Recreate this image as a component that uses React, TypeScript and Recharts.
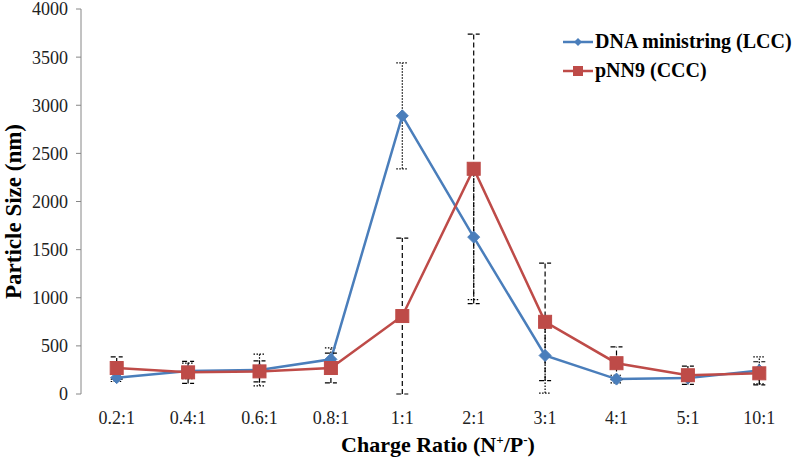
import React from 'react';
import {
  LineChart,
  Line,
  XAxis,
  YAxis,
  ErrorBar,
  Legend,
  Label,
} from 'recharts';

const categories = ['0.2:1', '0.4:1', '0.6:1', '0.8:1', '1:1', '2:1', '3:1', '4:1', '5:1', '10:1'];

// DNA ministring (LCC)
const ministring = [170, 240, 250, 360, 2890, 1630, 400, 155, 165, 245];
const ministringErr = [40, 80, 165, 120, 550, 650, 390, 40, 30, 140];

// pNN9 (CCC)
const pnn9 = [270, 225, 235, 270, 810, 2340, 750, 320, 195, 215];
const pnn9Err = [115, 115, 110, 155, 810, 1400, 610, 170, 95, 120];

const yTicks = [0, 500, 1000, 1500, 2000, 2500, 3000, 3500, 4000];

const BLUE = '#4A7EBB';
const RED = '#BE4B48';
const AXIS = '#868686';
const FONT = '"Liberation Serif", "Times New Roman", serif';

const data = categories.map((label, i) => ({
  pos: i + 0.5,
  label,
  ministring: ministring[i],
  ministringErr: ministringErr[i],
  pnn9: pnn9[i],
  pnn9Err: pnn9Err[i],
}));

const labelTicks = categories.map((_, i) => i + 0.5);
const markTicks = [0, 1, 2, 3, 4, 5, 6, 7, 8, 9, 10];

const Diamond = (props: any) => {
  const { cx, cy } = props;
  if (cx == null || cy == null) return null;
  const r = 6;
  return (
    <polygon
      points={`${cx},${cy - r} ${cx + r},${cy} ${cx},${cy + r} ${cx - r},${cy}`}
      fill={BLUE}
      stroke={BLUE}
    />
  );
};

const Square = (props: any) => {
  const { cx, cy } = props;
  if (cx == null || cy == null) return null;
  const s = 6.5;
  return <rect x={cx - s} y={cy - s} width={s * 2} height={s * 2} fill={RED} stroke={RED} />;
};

const legendItems = [
  { name: 'DNA ministring (LCC)', color: BLUE, shape: 'diamond' },
  { name: 'pNN9 (CCC)', color: RED, shape: 'square' },
];

const renderLegend = () => (
  <div style={{ fontFamily: FONT, fontWeight: 'bold', fontSize: 20, color: '#000' }}>
    {legendItems.map((item) => (
      <div key={item.name} style={{ display: 'flex', alignItems: 'center', height: 29 }}>
        <svg width={30} height={14} style={{ marginRight: 2 }}>
          <line x1={0} y1={7} x2={30} y2={7} stroke={item.color} strokeWidth={2.5} />
          {item.shape === 'diamond' ? (
            <polygon points="15,3 19,7 15,11 11,7" fill={item.color} />
          ) : (
            <rect x={10} y={2} width={10} height={10} fill={item.color} />
          )}
        </svg>
        <span>{item.name}</span>
      </div>
    ))}
  </div>
);

const renderXTitle = (props: any) => {
  const vb = props.viewBox;
  const x = vb.x + vb.width / 2;
  const y = vb.y + vb.height - 9;
  return (
    <text x={x} y={y} textAnchor="middle" fontFamily={FONT} fontWeight="bold" fontSize={22} fill="#000">
      Charge Ratio (N
      <tspan dy={-8} fontSize={13}>+</tspan>
      <tspan dy={8}>/P</tspan>
      <tspan dy={-8} fontSize={13}>-</tspan>
      <tspan dy={8}>)</tspan>
    </text>
  );
};

const renderYTitle = (props: any) => {
  const vb = props.viewBox;
  const cy = vb.y + vb.height / 2 + 10;
  return (
    <text
      x={0}
      y={0}
      transform={`translate(${vb.x + 21}, ${cy}) rotate(-90)`}
      textAnchor="middle"
      fontFamily={FONT}
      fontWeight="bold"
      fontSize={23}
      fill="#000"
    >
      Particle Size (nm)
    </text>
  );
};

export default function App() {
  return (
    <div style={{ position: 'absolute', left: 0, top: 0, width: 799, height: 461, background: '#fff' }}>
      <LineChart
        width={799}
        height={461}
        data={data}
        margin={{ top: 9, right: 4, bottom: 0, left: 0 }}
      >
        <XAxis
          xAxisId="marks"
          type="number"
          dataKey="pos"
          domain={[0, 10]}
          ticks={markTicks}
          tick={false}
          tickSize={6}
          height={0}
          axisLine={{ stroke: AXIS }}
          tickLine={{ stroke: AXIS }}
        />
        <XAxis
          xAxisId="labels"
          type="number"
          dataKey="pos"
          domain={[0, 10]}
          ticks={labelTicks}
          tickFormatter={(v: number) => categories[Math.floor(v)]}
          tickLine={false}
          axisLine={false}
          tickSize={0}
          tickMargin={17}
          height={67}
          interval={0}
          tick={{ fontFamily: FONT, fontSize: 18, fill: '#222' }}
        >
          <Label content={renderXTitle} />
        </XAxis>
        <YAxis
          domain={[0, 4000]}
          ticks={yTicks}
          width={81}
          tickSize={5}
          tickMargin={8}
          interval={0}
          allowDataOverflow
          axisLine={{ stroke: AXIS }}
          tickLine={{ stroke: AXIS }}
          tick={{ fontFamily: FONT, fontSize: 18, fill: '#222' }}
        >
          <Label content={renderYTitle} />
        </YAxis>
        <Legend
          content={renderLegend}
          layout="vertical"
          verticalAlign="middle"
          align="center"
          wrapperStyle={{ position: 'absolute', top: 27, left: 563, width: 236 }}
        />
        <Line
          xAxisId="labels"
          name="DNA ministring (LCC)"
          type="linear"
          dataKey="ministring"
          stroke={BLUE}
          strokeWidth={2.5}
          dot={<Diamond />}
          activeDot={false}
          isAnimationActive={false}
        >
          <ErrorBar dataKey="ministringErr" width={6} stroke="#000" strokeWidth={1.2} strokeDasharray="1.5 1.5" />
        </Line>
        <Line
          xAxisId="labels"
          name="pNN9 (CCC)"
          type="linear"
          dataKey="pnn9"
          stroke={RED}
          strokeWidth={2.5}
          dot={<Square />}
          activeDot={false}
          isAnimationActive={false}
        >
          <ErrorBar dataKey="pnn9Err" width={6} stroke="#000" strokeWidth={1.2} strokeDasharray="5 3" />
        </Line>
      </LineChart>
    </div>
  );
}
